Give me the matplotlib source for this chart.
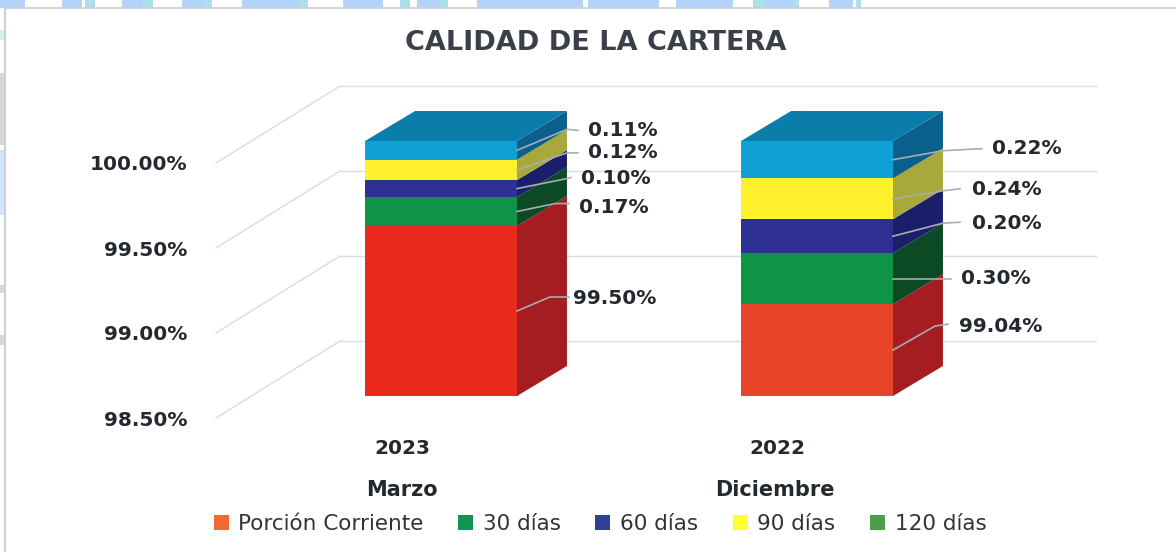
import matplotlib
matplotlib.use("Agg")
import matplotlib.pyplot as plt
from matplotlib.patches import Polygon, Rectangle
from matplotlib.transforms import Affine2D

# ---------- data ----------
years = ["2023", "2022"]
months = ["Marzo", "Diciembre"]
series_names = ["Porción Corriente", "30 días", "60 días", "90 días", "120 días"]
marzo_values = [99.50, 0.17, 0.10, 0.12, 0.11]
diciembre_values = [99.04, 0.30, 0.20, 0.24, 0.22]
y_ticks = [98.5, 99.0, 99.5, 100.0]

# ---------- style ----------
W, H = 1176, 552
TXT = "#24282f"
FONT = "DejaVu Sans"
front_colors = ["#E8291C", "#0E9347", "#2E3192", "#FFF22D", "#0FA0D6"]
side_colors = ["#A51D20", "#0B4A24", "#1B1F6B", "#A9A83A", "#0A5F8C"]
top_color = "#0A7DAA"
legend_colors = ["#F26A2E", "#0E9650", "#2E409A", "#FFFF33", "#4C9E4C"]
BAR_W = 0.404
BAR_DX, BAR_DY = 37, 22      # bar front plane relative to the tick plane, px
WALL_DX, WALL_DY = 124, 77   # back wall relative to the tick plane, px
DEPTH_DX, DEPTH_DY = 50, 30  # bar depth, px

# leader layout from the anchor: bend, line end, text left edge, px (x right, y up)
layout = [
    [((33, 14), (52, 14), (56, 13)), ((38, 8), (52, 8), (62, 4)), ((45, 9), (54, 11), (64, 10)),
     ((50, 17), (61, 17), (71, 17)), ((50, 21), (61, 20), (71, 20))],
    [((42, 24), (55, 26), (66, 24)), ((50, 0), (58, 0), (68, 0)), ((50, 13), (67, 14), (79, 13)),
     ((50, 8), (67, 10), (79, 9)), ((50, 9), (89, 11), (99, 11))],
]
year_shift = [-2, -3]
month_shift = [-2, -5]

# scanned-page remnants: watermark pieces along the top and left page edges (px)
strip_blue = [(0, 25), (62, 82), (93, 95), (122, 143), (182, 203), (242, 298), (343, 383), (417, 440),
              (477, 583), (588, 659), (676, 733), (766, 793), (829, 853)]
strip_cyan = [(85, 93), (143, 153), (203, 212), (298, 308), (400, 410), (440, 448), (753, 766), (793, 799), (856, 861)]
edge_marks = [(30, 40, "#d8eef2"), (73, 145, "#d6d6d6"), (150, 215, "#d2e4f8"), (285, 293, "#d6d6d6"), (335, 345, "#d6d6d6")]

fig = plt.figure(figsize=(W / 100, H / 100), dpi=100, facecolor="white")

for spans, col in ((strip_blue, "#B3D4FA"), (strip_cyan, "#A9E2EA")):
    for a, b in spans:
        fig.add_artist(Rectangle((a / W, 1 - 8 / H), (b - a) / W, 8 / H, fc=col, ec="none"))
for a, b, col in edge_marks:
    fig.add_artist(Rectangle((0, 1 - b / H), 4 / W, (b - a) / H, fc=col, ec="none"))
fig.add_artist(plt.Line2D([5 / W, 5 / W], [0, 1 - 8 / H], color="#d0d0d4", lw=1.5))
fig.add_artist(plt.Line2D([5 / W, 1], [1 - 8 / H, 1 - 8 / H], color="#cfcfd2", lw=1.2))

ax = fig.add_axes([216 / W, 1 - 418 / H, 752 / W, 255 / H])
ax.set_xlim(-0.5, 1.5)
ax.set_ylim(98.5, 100.0)
ax.patch.set_visible(False)
for s in ax.spines.values():
    s.set_visible(False)

bar_tr = ax.transData + Affine2D().translate(BAR_DX, BAR_DY)
wall_tr = ax.transData + Affine2D().translate(WALL_DX, WALL_DY)

# back wall gridlines and the slanted side-wall lines
for v in y_ticks:
    ax.plot([-0.5, 1.51], [v, v], transform=wall_tr, color="#dcdcdc", lw=1, clip_on=False, zorder=1)
    a = ax.transData.transform((-0.5, v))
    b = wall_tr.transform((-0.5, v))
    ax.plot([a[0], b[0]], [a[1], b[1]], transform=None, color="#dcdcdc", lw=1, clip_on=False, zorder=1)

# stacked bars with a drawn depth
for i, vals in enumerate([marzo_values, diciembre_values]):
    left, right = i - BAR_W / 2, i + BAR_W / 2
    base = 98.5
    for j, v in enumerate(vals):
        top = v if j == 0 else base + v
        fc = front_colors[j]
        if j == 0 and i == 1:
            fc = "#E8442A"
        ax.bar(i, top - base, width=BAR_W, bottom=base, color=fc, lw=0, transform=bar_tr, clip_on=False, zorder=5)
        p0 = bar_tr.transform((right, base))
        p1 = bar_tr.transform((right, top))
        ax.add_patch(Polygon([p0, p1, (p1[0] + DEPTH_DX, p1[1] + DEPTH_DY), (p0[0] + DEPTH_DX, p0[1] + DEPTH_DY)],
                             closed=True, fc=side_colors[j], ec="none", transform=None, clip_on=False, zorder=4))
        # leader line and value label
        anchor = bar_tr.transform((right, (base + top) / 2))
        bend, end, txt = layout[i][j]
        ax.plot([anchor[0], anchor[0] + bend[0], anchor[0] + end[0]],
                [anchor[1], anchor[1] + bend[1], anchor[1] + end[1]],
                transform=None, color="#a8adb2", lw=1.2, clip_on=False, zorder=6)
        ax.annotate(f"{v:.2f}%", xy=anchor, xycoords="figure pixels",
                    xytext=txt, textcoords="offset pixels", ha="left", va="center",
                    fontsize=14.5, fontweight="bold", family=FONT, color=TXT, zorder=7,
                    annotation_clip=False)
        base = top
    t0 = bar_tr.transform((left, base))
    t1 = bar_tr.transform((right, base))
    ax.add_patch(Polygon([t0, t1, (t1[0] + DEPTH_DX, t1[1] + DEPTH_DY), (t0[0] + DEPTH_DX, t0[1] + DEPTH_DY)],
                         closed=True, fc=top_color, ec="none", transform=None, clip_on=False, zorder=4))

# axes texts
ax.set_yticks(y_ticks, [f"{v:.2f}%" for v in y_ticks])
ax.set_xticks(range(len(years)), years)
ax.tick_params(axis="both", length=0)
ax.tick_params(axis="y", pad=20.5)
ax.tick_params(axis="x", pad=15)
for lb in ax.get_yticklabels() + ax.get_xticklabels():
    lb.set(fontsize=14.5, fontweight="bold", family=FONT, color=TXT)
for lb, dx in zip(ax.get_xticklabels(), year_shift):
    lb.set_transform(lb.get_transform() + Affine2D().translate(dx, 0))
for i, m in enumerate(months):
    ax.annotate(m, xy=(i, 0), xycoords=("data", "axes fraction"), xytext=(month_shift[i], -72), textcoords="offset pixels",
                ha="center", va="center", fontsize=15, fontweight="bold", family=FONT, color=TXT, annotation_clip=False)

fig.text(596 / W, 1 - 43 / H, "CALIDAD DE LA CARTERA", ha="center", va="center",
         fontsize=19.5, fontweight="bold", family=FONT, color="#3b4048")

handles = [Rectangle((0, 0), 1, 1, fc=c, ec="none") for c in legend_colors]
fig.legend(handles, series_names, loc="center", bbox_to_anchor=(600 / W, 1 - 524 / H), ncol=5, frameon=False,
           prop={"family": FONT, "size": 15.5}, labelcolor="#333333", handlelength=0.7, handleheight=0.7,
           handletextpad=0.45, columnspacing=1.6, borderpad=0)

fig.savefig("out.png", dpi=100)
